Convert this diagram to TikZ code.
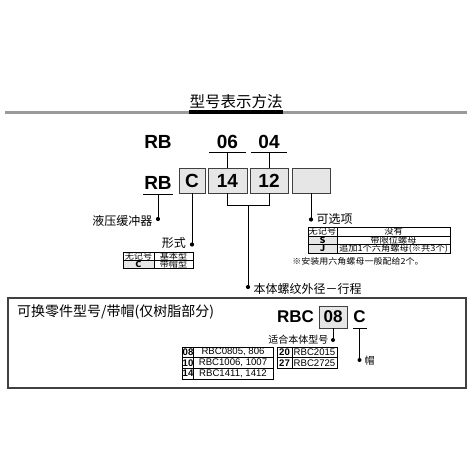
\documentclass[tikz,border=0pt]{standalone}
\usepackage{fontspec}
\usepackage{graphicx}
\setmainfont{Liberation Sans}
\newfontfamily\cjk{Noto Sans CJK SC}
\newfontfamily\cjkw[FakeStretch=1.1]{Noto Sans CJK SC}
\definecolor{boxgray}{HTML}{E6E6E6}
\definecolor{rulegray}{HTML}{9A9A9A}
\definecolor{edgegray}{HTML}{404040}
\newcommand\tcell[7]{\node[cell, fill=#7, minimum width={(#4-#2)*1pt}, minimum height={(#5-#3)*1pt}] (#1) at ({(#2+#4)/2},{(#3+#5)/2}) {#6};}
\begin{document}
\begin{tikzpicture}[x=1pt,y=-1pt,
  code/.style={font=\fontsize{19}{20}\selectfont\bfseries, inner sep=0pt},
  codeS/.style={font=\fontsize{17}{18}\selectfont\bfseries, inner sep=0pt},
  codebox/.style={draw=edgegray, fill=boxgray, line width=0.9pt, inner sep=0pt},
  lbl/.style={font=\cjk\fontsize{12}{13}\selectfont, inner sep=0pt},
  lead/.style={line width=0.8pt},
  cell/.style={draw, line width=0.6pt, inner sep=0pt}]
\useasboundingbox (0,0) rectangle (471,471);

% title
\node[font=\cjk\fontsize{15.5}{16}\selectfont, inner sep=0pt] (title) at (236,102) {型号表示方法};
\draw[rulegray, line width=3pt] (5,112) -- (467,112);
\draw[line width=3.2pt] (title.west |- 0,112) -- (title.east |- 0,112);

% top row
\node[code] (rbtop) at (158,141.5) {RB};
\node[code] (n06) at (227.5,141.5) {06};
\node[code] (n04) at (269,141.5) {04};
\coordinate (u06a) at (209,152); \coordinate (u06b) at (246,152);
\coordinate (u04a) at (251,152); \coordinate (u04b) at (287,152);
\draw[lead] (u06a) -- (u06b);
\draw[lead] (u04a) -- (u04b);

% code row
\node[code] (rbbot) at (158,182.5) {RB};
\coordinate (urba) at (143,194.3); \coordinate (urbb) at (173,194.3);
\draw[lead] (urba) -- (urbb);
\node[codebox, code, minimum width=26pt, minimum height=25pt] (bC) at (192,180.5) {C};
\node[codebox, code, minimum width=39pt, minimum height=25pt] (b14) at (227.5,180.5) {14};
\node[codebox, code, minimum width=38pt, minimum height=25pt] (b12) at (269,180.5) {12};
\node[codebox, minimum width=38pt, minimum height=25pt] (bopt) at (311,180.5) {};

\draw[lead] (b14.north |- u06a) -- (b14.north);
\draw[lead] (b12.north |- u04a) -- (b12.north);

% bracket under 14 / 12
\coordinate (bm) at (248,205);
\draw[lead] (b14.south) -- (b14.south |- bm) -- (b12.south |- bm) -- (b12.south);

% leaders and dots
\coordinate (dHyd) at (158,219);
\coordinate (dForm) at (192,244.5);
\coordinate (dOpt) at (311,219.5);
\coordinate (dBody) at (248,287);
\draw[lead] (dHyd |- urba) -- (dHyd);
\draw[lead] (bC.south) -- (dForm);
\draw[lead] (bopt.south) -- (dOpt);
\draw[lead] (bm) -- (dBody);
\foreach \d in {dHyd,dForm,dOpt,dBody} \fill (\d) circle (2.1pt);

\node[lbl, anchor=east] (lHyd) at (152.5,220.5) {液压缓冲器};
\node[lbl, anchor=east] (lForm) at (186,243) {形式};
\node[lbl, anchor=west] (lOpt) at (316.5,219) {可选项};
\node[lbl, anchor=west] (lBody) at (253.5,289) {本体螺纹外径－行程};

% form table
\begin{scope}[font=\cjkw\fontsize{8.3}{8.5}\selectfont]
\tcell{f11}{123}{252}{154}{260}{无记号}{white}
\tcell{f12}{154}{252}{193}{260}{基本型}{white}
\tcell{f21}{123}{260}{154}{268.3}{\bfseries C}{boxgray}
\tcell{f22}{154}{260}{193}{268.3}{带帽型}{white}
\end{scope}

% option table
\begin{scope}[font=\cjkw\fontsize{8.4}{9}\selectfont]
\tcell{o11}{308}{227}{337}{236}{无记号}{white}
\tcell{o12}{337}{227}{450}{236}{没有}{white}
\tcell{o21}{308}{236}{337}{244.5}{\bfseries S}{boxgray}
\tcell{o22}{337}{236}{450}{244.5}{带限位螺母}{white}
\tcell{o31}{308}{244.5}{337}{253}{\bfseries J}{boxgray}
\tcell{o32}{337}{244.5}{450}{253}{追加1个六角螺母(※共3个)}{white}
\end{scope}
\node[font=\cjkw\fontsize{8.2}{9}\selectfont, inner sep=0pt] (note) at (358,261) {※安装用六角螺母一般配给2个。};

% replacement part frame
\node[draw=edgegray, line width=1.2pt, minimum width=458pt, minimum height=90pt, inner sep=0pt] (frame) at (237,343) {};
\node[font=\cjk\fontsize{14}{15}\selectfont, inner sep=0pt, anchor=west] (ftitle) at (17,312) {可换零件型号/带帽(仅树脂部分)};

\node[codeS] (rbc) at (295.5,317) {RBC};
\node[codebox, codeS, minimum width=28pt, minimum height=22pt] (b08) at (333,317) {08};
\node[codeS] (cC) at (359.5,317) {C};
\coordinate (ucA) at (353,328); \coordinate (ucB) at (366.5,328);
\draw[lead] (ucA) -- (ucB);

\coordinate (dFit) at (333,340);
\coordinate (dCap) at (359.5,360);
\draw[lead] (b08.south) -- (dFit);
\draw[lead] (dCap |- ucA) -- (dCap);
\fill (dFit) circle (2pt);
\fill (dCap) circle (2pt);
\node[font=\cjk\fontsize{10}{11}\selectfont, inner sep=0pt, anchor=east] (lFit) at (328.5,340) {适合本体型号};
\node[font=\cjk\fontsize{10}{11}\selectfont, inner sep=0pt, anchor=west] (lCap) at (364.5,361) {帽};

% size tables
\begin{scope}[font=\fontsize{9.6}{10}\selectfont]
\tcell{s11}{183}{347}{193}{357.5}{\bfseries 08}{white}
\tcell{s12}{193}{347}{273}{357.5}{RBC0805, 806}{white}
\tcell{s21}{183}{357.5}{193}{368}{\bfseries 10}{white}
\tcell{s22}{193}{357.5}{273}{368}{RBC1006, 1007}{white}
\tcell{s31}{183}{368}{193}{379}{\bfseries 14}{white}
\tcell{s32}{193}{368}{273}{379}{RBC1411, 1412}{white}
\tcell{t11}{277}{347}{292}{357.5}{\bfseries 20}{white}
\tcell{t12}{292}{347}{337}{357.5}{RBC2015}{white}
\tcell{t21}{277}{357.5}{292}{368}{\bfseries 27}{white}
\tcell{t22}{292}{357.5}{337}{368}{RBC2725}{white}
\end{scope}
\end{tikzpicture}
\end{document}
